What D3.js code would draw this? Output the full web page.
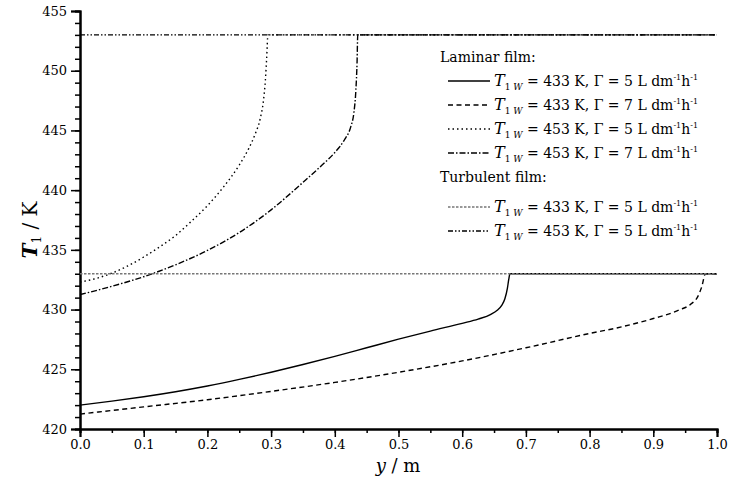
<!DOCTYPE html>
<html><head><meta charset="utf-8">
<script src="https://cdn.jsdelivr.net/npm/d3@7"></script>
<style>
body{margin:0;background:#fff;}
svg{display:block;font-family:"DejaVu Serif",serif;}
</style></head><body>
<svg id="chart" width="731" height="498"></svg>
<script>
// ---- data ----
const xLam433_5 = [0,0.05,0.1,0.15,0.2,0.25,0.3,0.35,0.4,0.45,0.5,0.55,0.6,0.625,0.645,0.655,0.662,0.667,0.671,0.673,0.675,1.0];
const tLam433_5 = [422.0,422.33,422.7,423.12,423.6,424.15,424.75,425.4,426.08,426.8,427.52,428.2,428.85,429.2,429.6,429.95,430.35,430.9,431.8,432.5,433,433];
const xLam433_7 = [0,0.1,0.2,0.3,0.4,0.5,0.6,0.7,0.8,0.85,0.9,0.94,0.96,0.97,0.976,0.982,1.0];
const tLam433_7 = [421.25,421.85,422.45,423.15,423.9,424.75,425.7,426.8,428.0,428.55,429.25,429.95,430.5,431.1,431.9,433,433];
const xLam453_5 = [0,0.025,0.05,0.075,0.1,0.125,0.15,0.175,0.2,0.225,0.25,0.265,0.275,0.283,0.288,0.291,0.293,0.295,1.0];
const tLam453_5 = [432.3,432.6,433.05,433.65,434.4,435.25,436.2,437.4,438.7,440.25,442.1,443.5,444.7,446.0,447.5,449.2,451.0,453,453];
const xLam453_7 = [0,0.05,0.1,0.15,0.2,0.25,0.3,0.35,0.38,0.4,0.415,0.425,0.43,0.433,0.435,0.436,1.0];
const tLam453_7 = [431.25,431.95,432.75,433.75,434.95,436.45,438.35,440.65,442.1,443.15,444.2,445.3,446.5,448.3,450.8,453,453];
const xTurb = [0,1.0];
const tTurb433 = [433,433];
const tTurb453 = [453,453];
const xTicks = [0,0.1,0.2,0.3,0.4,0.5,0.6,0.7,0.8,0.9,1.0];
const yTicks = [420,425,430,435,440,445,450,455];

// ---- layout ----
const svg = d3.select("#chart");
const L = 80, R = 717, T = 11, B = 429;
const x = d3.scaleLinear().domain([0,1]).range([L,R]);
const y = d3.scaleLinear().domain([420,455]).range([B,T]);

// axes
const xMinor = d3.range(0,1.0001,0.05);
const yMinor = d3.range(420,455.001,1);
const gx = svg.append("g").attr("transform",`translate(0,${B})`);
gx.call(d3.axisBottom(x).tickValues(xMinor).tickSize(4).tickFormat(""));
gx.append("g").call(d3.axisBottom(x).tickValues(xTicks).tickSize(8).tickFormat(d3.format(".1f")));
const gy = svg.append("g").attr("transform",`translate(${L},0)`);
gy.call(d3.axisLeft(y).tickValues(yMinor).tickSize(5).tickFormat(""));
gy.append("g").call(d3.axisLeft(y).tickValues(yTicks).tickSize(9).tickFormat(d3.format("d")));
svg.selectAll(".domain").attr("stroke","#000").attr("stroke-width",2);
svg.selectAll(".tick line").attr("stroke","#000").attr("stroke-width",1.5);
svg.selectAll(".tick text").attr("font-family","DejaVu Serif").attr("font-size",13).attr("fill","#000");
gy.selectAll(".tick text").attr("dx","-1px");

// lines
const series = [
  {xs:xLam433_5, ts:tLam433_5, dash:null, color:"#000"},
  {xs:xLam433_7, ts:tLam433_7, dash:"5,3.5", color:"#000"},
  {xs:xLam453_5, ts:tLam453_5, dash:"1.5,3", color:"#000"},
  {xs:xLam453_7, ts:tLam453_7, dash:"6,2,1.5,2", color:"#000"},
  {xs:xTurb, ts:tTurb433, dash:"2.5,1.5", color:"#777"},
  {xs:xTurb, ts:tTurb453, dash:"5,2,1.5,2,1.5,2", color:"#000"}
];
const line = d3.line().x(d=>x(d[0])).y(d=>y(d[1])).curve(d3.curveMonotoneX);
series.forEach(s=>{
  svg.append("path").datum(s.xs.map((v,i)=>[v,s.ts[i]]))
    .attr("d",line).attr("fill","none").attr("stroke",s.color)
    .attr("stroke-width",1.4).attr("stroke-dasharray",s.dash);
});

// axis titles
const xl = svg.append("text").attr("x",398).attr("y",472).attr("text-anchor","middle")
  .attr("font-size",18).attr("fill","#000");
xl.append("tspan").attr("font-style","italic").text("y");
xl.append("tspan").text(" / m");
const yl = svg.append("text").attr("transform","translate(37,230) rotate(-90)")
  .attr("text-anchor","middle").attr("font-size",20).attr("fill","#000");
yl.append("tspan").attr("font-style","italic").attr("font-weight","bold").text("T");
yl.append("tspan").attr("font-size",12).attr("dy",4).text("1");
yl.append("tspan").attr("dy",-4).text(" / K");

// legend
const legTW = ["433","433","453","453","433","453"];
const legG = ["5","7","5","7","5","5"];
const legRowsY = [81,105,129,153,207,231];
const legend = svg.append("g").attr("font-size",14).attr("fill","#000");
legend.append("text").attr("x",440).attr("y",62).text("Laminar film:");
legend.append("text").attr("x",440).attr("y",182).text("Turbulent film:");
series.forEach((s,i)=>{
  const yy = legRowsY[i];
  legend.append("line").attr("x1",448).attr("x2",490).attr("y1",yy).attr("y2",yy)
    .attr("stroke",s.color).attr("stroke-width",1.4).attr("stroke-dasharray",s.dash);
  const t = legend.append("text").attr("x",494).attr("y",yy+5);
  t.append("tspan").attr("font-style","italic").attr("font-size",16).text("T");
  t.append("tspan").attr("font-size",9).attr("dy",4).text("1 ");
  t.append("tspan").attr("font-size",9).attr("font-style","italic").text("W");
  t.append("tspan").attr("dy",-4).text(` = ${legTW[i]} K, Γ = ${legG[i]} L dm`);
  t.append("tspan").attr("font-size",8).attr("dy",-6).text("-1");
  t.append("tspan").attr("dy",6).text("h");
  t.append("tspan").attr("font-size",8).attr("dy",-6).text("-1");
});
</script>
</body></html>
